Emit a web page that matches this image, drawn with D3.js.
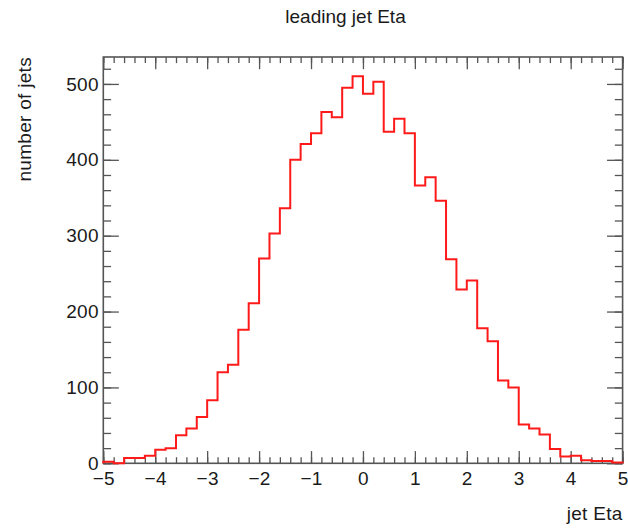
<!DOCTYPE html>
<html>
<head>
<meta charset="utf-8">
<script src="https://cdn.jsdelivr.net/npm/d3@7"></script>
<style>
  html, body { margin: 0; padding: 0; background: #fff; }
  svg text { font-family: "Liberation Sans", Arial, Helvetica, sans-serif; fill: #1a1a1a; }
</style>
</head>
<body>
<svg id="chart" width="628" height="528"></svg>
<script>
// Histogram of leading-jet pseudorapidity: 50 bins over [-5, 5]
const binLow = -5;
const binHigh = 5;
const binCount = 50;
const counts = [
  2, 0, 7, 7, 10, 18, 20, 37, 46, 61,
  83, 120, 130, 176, 211, 270, 303, 336, 400, 421,
  435, 463, 456, 495, 510, 487, 503, 437, 454, 435,
  366, 377, 346, 269, 229, 241, 178, 161, 109, 100,
  51, 46, 38, 19, 9, 10, 4, 3, 3, 1
];
const xMajorTicks = [-5, -4, -3, -2, -1, 0, 1, 2, 3, 4, 5];
const yMajorTicks = [0, 100, 200, 300, 400, 500];
const titleText = "leading jet Eta";
const xTitle = "jet Eta";
const yTitle = "number of jets";

const frame = { left: 103.3, right: 622.6, top: 57, bottom: 463.3 };
const yMax = d3.max(counts) * 1.05;

const x = d3.scaleLinear().domain([binLow, binHigh]).range([frame.left, frame.right]);
const y = d3.scaleLinear().domain([0, yMax]).range([frame.bottom, frame.top]);

const svg = d3.select("#chart");
const axisColor = "#555";
const fontSize = 19;
const spacing = 0.3;
const fmt = d3.format("d");

const xMinor = d3.range(binLow, binHigh + 1e-9, 0.2).map(v => +v.toFixed(2));
const yMinor = d3.range(0, yMax, 20);

const xTickLen = (frame.bottom - frame.top) * 0.03;
const yTickLen = (frame.right - frame.left) * 0.03;

function styleAxis(g) {
  g.select(".domain").remove();
  g.selectAll("line").attr("stroke", axisColor).attr("stroke-width", 1.3);
}
function styleLabels(g) {
  g.selectAll("text")
    .attr("font-size", fontSize)
    .attr("letter-spacing", spacing)
    .attr("fill", "#1a1a1a");
}

// minor ticks on all four sides
svg.append("g").attr("transform", `translate(0,${frame.bottom})`)
  .call(d3.axisBottom(x).tickValues(xMinor).tickSizeInner(-xTickLen / 2).tickFormat(""))
  .call(styleAxis);
svg.append("g").attr("transform", `translate(0,${frame.top})`)
  .call(d3.axisTop(x).tickValues(xMinor).tickSizeInner(-xTickLen / 2).tickFormat(""))
  .call(styleAxis);
svg.append("g").attr("transform", `translate(${frame.left},0)`)
  .call(d3.axisLeft(y).tickValues(yMinor).tickSizeInner(-yTickLen / 2).tickFormat(""))
  .call(styleAxis);
svg.append("g").attr("transform", `translate(${frame.right},0)`)
  .call(d3.axisRight(y).tickValues(yMinor).tickSizeInner(-yTickLen / 2).tickFormat(""))
  .call(styleAxis);

// major ticks, labelled on bottom and left
svg.append("g").attr("transform", `translate(0,${frame.bottom})`)
  .call(d3.axisBottom(x).tickValues(xMajorTicks).tickSizeInner(-xTickLen).tickPadding(8.5).tickFormat(fmt))
  .call(styleAxis)
  .call(styleLabels);
svg.append("g").attr("transform", `translate(${frame.left},0)`)
  .call(d3.axisLeft(y).tickValues(yMajorTicks).tickSizeInner(-yTickLen).tickPadding(4.5).tickFormat(fmt))
  .call(styleAxis)
  .call(styleLabels);
svg.append("g").attr("transform", `translate(0,${frame.top})`)
  .call(d3.axisTop(x).tickValues(xMajorTicks).tickSizeInner(-xTickLen).tickFormat(""))
  .call(styleAxis);
svg.append("g").attr("transform", `translate(${frame.right},0)`)
  .call(d3.axisRight(y).tickValues(yMajorTicks).tickSizeInner(-yTickLen).tickFormat(""))
  .call(styleAxis);

// frame
svg.append("rect")
  .attr("x", frame.left).attr("y", frame.top)
  .attr("width", frame.right - frame.left).attr("height", frame.bottom - frame.top)
  .attr("fill", "none").attr("stroke", axisColor).attr("stroke-width", 1.6);

// histogram outline
const binWidth = (binHigh - binLow) / binCount;
const outline = [[binLow, 0]];
counts.forEach((c, i) => {
  const lo = binLow + i * binWidth;
  outline.push([lo, c], [lo + binWidth, c]);
});
outline.push([binHigh, 0]);

svg.append("path")
  .datum(outline)
  .attr("fill", "none")
  .attr("stroke", "#ff1a1a")
  .attr("stroke-width", 2)
  .attr("stroke-linejoin", "miter")
  .attr("d", d3.line().x(d => x(d[0])).y(d => y(d[1])));

// titles
svg.append("text")
  .attr("x", 345.5).attr("y", 23)
  .attr("text-anchor", "middle")
  .attr("font-size", fontSize)
  .text(titleText);

svg.append("text")
  .attr("x", frame.right).attr("y", 520)
  .attr("text-anchor", "end")
  .attr("font-size", fontSize)
  .attr("letter-spacing", spacing)
  .text(xTitle);

svg.append("text")
  .attr("transform", `translate(31,${frame.top}) rotate(-90)`)
  .attr("text-anchor", "end")
  .attr("font-size", fontSize)
  .attr("letter-spacing", spacing)
  .text(yTitle);
</script>
</body>
</html>
